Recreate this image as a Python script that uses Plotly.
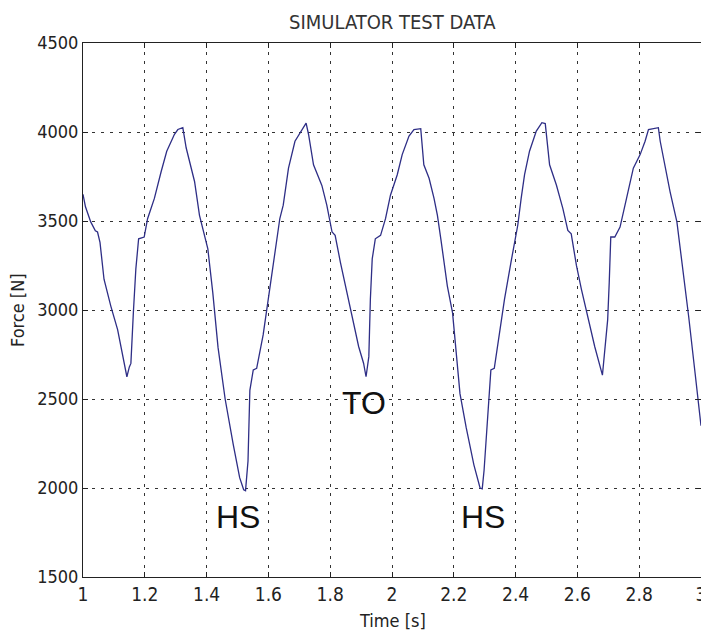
import plotly.graph_objects as go

time_s = [1.000, 1.008, 1.025, 1.040, 1.047, 1.055, 1.068, 1.090, 1.112, 1.128, 1.142, 1.150, 1.155,
          1.163, 1.171, 1.180, 1.198, 1.209, 1.231, 1.253, 1.271, 1.296, 1.307, 1.323, 1.334, 1.361,
          1.377, 1.404, 1.420, 1.437, 1.460, 1.486, 1.507, 1.520, 1.526, 1.534, 1.540, 1.551, 1.562,
          1.583, 1.600, 1.621, 1.637, 1.648, 1.665, 1.686, 1.708, 1.722, 1.730, 1.746, 1.773, 1.789,
          1.806, 1.816, 1.833, 1.854, 1.871, 1.892, 1.908, 1.916, 1.925, 1.930, 1.936, 1.946, 1.963,
          1.979, 1.995, 2.017, 2.033, 2.055, 2.071, 2.093, 2.103, 2.120, 2.136, 2.147, 2.158, 2.179,
          2.196, 2.212, 2.220, 2.240, 2.265, 2.285, 2.292, 2.298, 2.312, 2.320, 2.331, 2.347, 2.364,
          2.385, 2.407, 2.418, 2.429, 2.445, 2.467, 2.485, 2.496, 2.510, 2.532, 2.553, 2.569, 2.580,
          2.597, 2.613, 2.635, 2.656, 2.681, 2.689, 2.698, 2.703, 2.708, 2.721, 2.738, 2.759, 2.781,
          2.803, 2.819, 2.830, 2.862, 2.868, 2.884, 2.900, 2.922, 2.943, 2.960, 2.981, 3.000]

force_n = [3650, 3580, 3495, 3445, 3438, 3380, 3173, 3022, 2890, 2757, 2625, 2680, 2700,
           2986, 3230, 3400, 3410, 3513, 3627, 3778, 3892, 3987, 4014, 4024, 3910, 3722,
           3532, 3343, 3098, 2790, 2500, 2247, 2058, 1990, 1985, 2152, 2549, 2663, 2672,
           2860, 3060, 3325, 3514, 3589, 3797, 3948, 4014, 4050, 3986, 3816, 3700, 3589,
           3438, 3419, 3268, 3098, 2946, 2795, 2701, 2625, 2738, 3060, 3287, 3400, 3419,
           3513, 3645, 3760, 3873, 3977, 4014, 4019, 3816, 3740, 3627, 3532, 3400, 3136,
           2984, 2701, 2530, 2340, 2130, 2000, 1995, 2100, 2500, 2663, 2672, 2852, 3060,
           3268, 3476, 3627, 3760, 3892, 4005, 4052, 4047, 3816, 3702, 3570, 3447, 3428,
           3249, 3116, 2946, 2795, 2634, 2776, 2946, 3154, 3410, 3410, 3466, 3627, 3797,
           3873, 3948, 4014, 4024, 3948, 3797, 3664, 3495, 3210, 2965, 2643, 2350]

x_ticks = [1.0, 1.2, 1.4, 1.6, 1.8, 2.0, 2.2, 2.4, 2.6, 2.8, 3.0]
x_tick_labels = ["1", "1.2", "1.4", "1.6", "1.8", "2", "2.2", "2.4", "2.6", "2.8", "3"]
y_ticks = [1500, 2000, 2500, 3000, 3500, 4000, 4500]
y_tick_labels = ["1500", "2000", "2500", "3000", "3500", "4000", "4500"]

event_labels = ["HS", "TO", "HS"]
event_x = [1.50, 1.909, 2.294]
event_y = [1839, 2480, 1837]

FONT = "DejaVu Sans Condensed, Liberation Sans Narrow, Arial Narrow, sans-serif"
# page body has an 8px default margin, so the figure is sized/offset to compensate
W, H = 701, 627
ML, MR, MT, MB = 75, 8, 35, 58
PW = W - ML - MR
PH = H - MT - MB

fig = go.Figure()
fig.add_trace(go.Scatter(x=time_s, y=force_n, mode="lines",
                         line=dict(color="#2e2e86", width=1.3), showlegend=False))

for lab, ex, ey in zip(event_labels, event_x, event_y):
    fig.add_annotation(x=ex, y=ey, text=lab, showarrow=False,
                       font=dict(family="Liberation Sans, Arial, sans-serif", size=32, color="#111"),
                       xanchor="center", yanchor="middle")

fig.add_annotation(xref="paper", yref="paper", x=0.5, y=1 + (MT - 14) / PH,
                   text="SIMULATOR TEST DATA", showarrow=False, xanchor="center", yanchor="middle",
                   font=dict(family=FONT, size=20, color="#333"))
fig.add_annotation(xref="paper", yref="paper", x=0.5, y=-(612 - (H - MB)) / PH,
                   text="Time [s]", showarrow=False, xanchor="center", yanchor="middle",
                   font=dict(family=FONT, size=18, color="#222"))
fig.add_annotation(xref="paper", yref="paper", x=-(ML - 9) / PW, y=0.5,
                   text="Force [N]", showarrow=False, xanchor="center", yanchor="middle",
                   textangle=-90, font=dict(family=FONT, size=18, color="#222"))

axis_common = dict(showline=True, linecolor="#222", linewidth=1, mirror="ticks",
                   ticks="inside", ticklen=5, tickcolor="#222",
                   showgrid=True, gridcolor="#333", gridwidth=1, griddash="3px,6px",
                   zeroline=False, automargin=False)

fig.update_xaxes(range=[1, 3], tickvals=x_ticks, ticktext=x_tick_labels,
                 tickfont=dict(family=FONT, size=19, color="#222"),
                 **axis_common)
fig.update_yaxes(range=[1500, 4500], tickvals=y_ticks, ticktext=y_tick_labels,
                 tickfont=dict(family=FONT, size=18, color="#222"),
                 **axis_common)

fig.update_layout(
    width=W, height=H,
    margin=dict(l=ML, r=MR, t=MT, b=MB, autoexpand=False),
    paper_bgcolor="white", plot_bgcolor="white",
)

fig.write_html("out.html")
